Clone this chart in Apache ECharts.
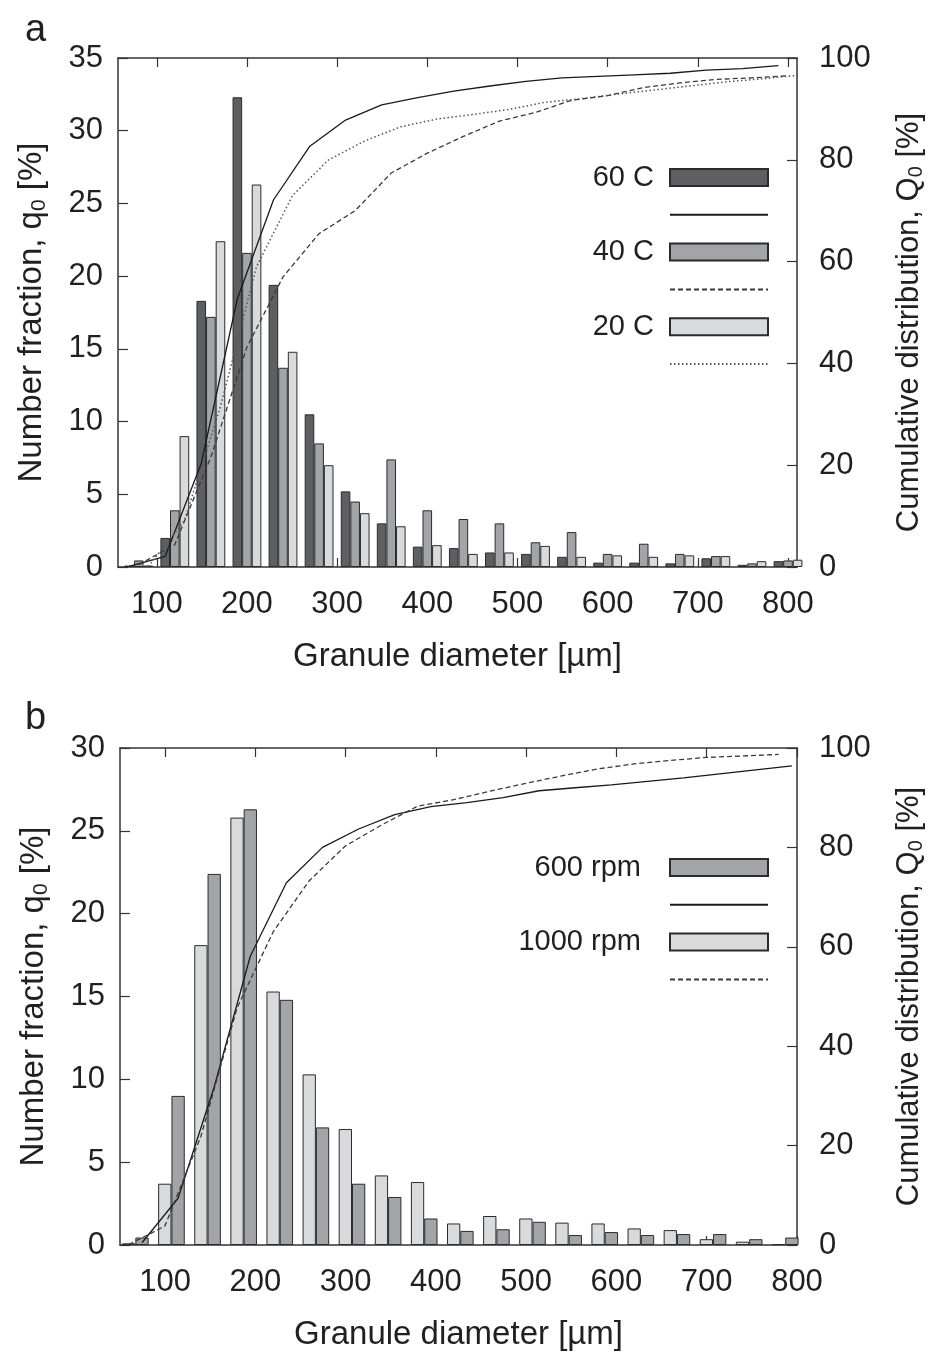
<!DOCTYPE html>
<html><head><meta charset="utf-8">
<script src="https://cdn.jsdelivr.net/npm/echarts@6/dist/echarts.min.js"></script>
<style>html,body{margin:0;padding:0;background:#fff}#c{width:934px;height:1352px}</style>
</head><body><div id="c"></div>
<script>
// ---------- data ----------
const binsA = [80,120,160,200,240,280,320,360,400,440,480,520,560,600,640,680,720,760,800];
const a60 = [0.1,2.0,18.3,32.3,19.4,10.5,5.2,3.0,1.4,1.3,1.0,0.9,0.7,0.3,0.3,0.25,0.6,0.15,0.4];
const a40 = [0.45,3.9,17.2,21.6,13.7,8.5,4.5,7.4,3.9,3.3,3.0,1.7,2.4,0.9,1.6,0.9,0.75,0.25,0.45];
const a20 = [0.1,9.0,22.4,26.3,14.8,7.0,3.7,2.8,1.5,0.9,1.0,1.45,0.7,0.8,0.7,0.8,0.75,0.4,0.5];
const cumA60 = [0.1,2.1,20.4,52.7,72.1,82.6,87.8,90.8,92.2,93.5,94.5,95.4,96.1,96.4,96.7,97.0,97.6,97.9,98.5];
const cumA40 = [0.45,4.4,21.6,43.2,57.0,65.5,70.0,77.4,81.3,84.6,87.6,89.3,91.7,92.6,94.2,95.1,95.8,96.1,96.5];
const cumA20 = [0.1,9.1,31.5,59.0,73.0,80.0,83.7,86.5,88.0,88.9,89.9,91.3,92.0,92.9,93.7,94.5,95.3,95.9,96.6];

const binsB = [67,107,147,187,227,267,307,347,387,427,467,507,547,587,627,667,707,747,787];
const b1000 = [0.1,3.7,18.1,25.8,15.3,10.3,7.0,4.2,3.8,1.3,1.75,1.6,1.35,1.3,1.0,0.9,0.35,0.2,0.05];
const b600  = [0.45,9.0,22.4,26.3,14.8,7.1,3.7,2.9,1.6,0.85,0.95,1.4,0.6,0.78,0.6,0.66,0.66,0.35,0.45];
const cumB600  = [0.45,9.4,31.8,58.1,72.9,80.0,83.7,86.6,88.2,89.0,90.0,91.4,92.0,92.6,93.3,94.0,94.8,95.6,96.4];
const cumB1000 = [0.1,3.8,21.9,47.7,63.0,73.3,80.3,84.5,88.3,89.6,91.3,92.9,94.4,95.8,96.8,97.5,98.1,98.4,98.7];

const xTickVals = [100,200,300,400,500,600,700,800];
const seriesNamesA = ['60 C','40 C','20 C'];
const seriesNamesB = ['600 rpm','1000 rpm'];

// ---------- layout / style ----------
const FONT = '"Liberation Sans", Arial, Helvetica, sans-serif';
const TXT = '#231f20';
const AX = '#333';
const gridA = {left:118, top:58, width:681, height:509};
const gridB = {left:120, top:748, width:680, height:510};
const rangeA = [57, 810], rangeB = [50, 800];
const barWA = 9.6, barWB = 13.3;
const offA = barWA * (rangeA[1]-rangeA[0]) / gridA.width;
const offB = barWB * (rangeB[1]-rangeB[0]) / gridB.width;
const C_DARK = '#5e5f63', C_MID = '#a3a4a8', C_LIGHT = '#d9dadc';

function xAxesFor(gi, range) {
  const base = {type:'value', gridIndex:gi, min:range[0], max:range[1], splitLine:{show:false},
    axisLine:{show:true, onZero:false, lineStyle:{color:AX, width:1.5}},
    axisTick:{show:true, inside:true, length:9, customValues:xTickVals, lineStyle:{color:AX, width:1.2}}};
  return [
    Object.assign({}, base, {position:'bottom',
      axisLabel:{customValues:xTickVals, fontSize:31, color:TXT, margin:22, fontFamily:FONT},
      name:'Granule diameter [µm]', nameLocation:'middle', nameGap:73,
      nameTextStyle:{fontSize:33, color:TXT, fontFamily:FONT}}),
    Object.assign({}, base, {position:'top', axisLabel:{show:false}})
  ];
}
function yAxesFor(gi, leftMax, rightPad) {
  return [
    {type:'value', gridIndex:gi, position:'left', min:0, max:leftMax, interval:5,
     axisLine:{show:true, lineStyle:{color:AX, width:1.5}},
     axisTick:{show:true, inside:true, length:10, lineStyle:{color:AX, width:1.2}},
     axisLabel:{fontSize:31, color:TXT, margin:15, fontFamily:FONT}, splitLine:{show:false},
     name:'Number fraction, q{s|0} [%]', nameLocation:'middle', nameGap:68,
     nameTextStyle:{fontSize:33, color:TXT, fontFamily:FONT,
       rich:{s:{fontSize:21, color:TXT, fontFamily:FONT, verticalAlign:'bottom', padding:[15,0,0,0]}}}},
    {type:'value', gridIndex:gi, position:'right', min:0, max:100, interval:20,
     axisLine:{show:true, lineStyle:{color:AX, width:1.5}},
     axisTick:{show:true, inside:true, length:10, lineStyle:{color:AX, width:1.2}},
     axisLabel:{fontSize:31, color:TXT, margin:22, fontFamily:FONT}, splitLine:{show:false},
     name:'Cumulative distribution, Q{s|0} [%]', nameLocation:'middle', nameGap:95,
     nameTextStyle:{fontSize:31, color:TXT, fontFamily:FONT, padding:[0,rightPad,0,0],
       rich:{s:{fontSize:20, color:TXT, fontFamily:FONT, verticalAlign:'bottom', padding:[14,0,0,0]}}}}
  ];
}
function barSeries(name, xi, yi, bins, vals, color, w) {
  return {name, type:'bar', xAxisIndex:xi, yAxisIndex:yi, barWidth:w, barGap:'0%',
    data: bins.map((b,i)=>[b, vals[i]]),
    itemStyle:{color, borderColor:'#2b2b2b', borderWidth:1}, emphasis:{disabled:true}, z:2};
}
function lineSeries(name, xi, yi, bins, vals, off, type, color, width) {
  return {name, type:'line', xAxisIndex:xi, yAxisIndex:yi, symbol:'none', clip:true,
    data: bins.map((b,i)=>[b+off, vals[i]]),
    itemStyle:{color, opacity:0},
    lineStyle:{color, width, type}, emphasis:{disabled:true}, z:5};
}

const series = [
  barSeries('60 C', 0, 0, binsA, a60, C_DARK, barWA),
  barSeries('40 C', 0, 0, binsA, a40, C_MID, barWA),
  barSeries('20 C', 0, 0, binsA, a20, C_LIGHT, barWA),
  lineSeries('60 C cum', 0, 1, binsA, cumA60, -offA, 'solid', '#1a1a1a', 1.3),
  lineSeries('40 C cum', 0, 1, binsA, cumA40, 0, [5,3], '#3a3a3a', 1.3),
  lineSeries('20 C cum', 0, 1, binsA, cumA20, offA, [1.5,2.5], '#555', 1.5),
  barSeries('1000 rpm', 2, 2, binsB, b1000, C_LIGHT, barWB),
  barSeries('600 rpm', 2, 2, binsB, b600, C_MID, barWB),
  lineSeries('600 rpm cum', 2, 3, binsB, cumB600, offB/2, 'solid', '#1a1a1a', 1.3),
  lineSeries('1000 rpm cum', 2, 3, binsB, cumB1000, -offB/2, [5,3], '#3a3a3a', 1.3)
];

function legendFor(names, top, gapPad) {
  const data = [];
  names.forEach(n => {
    data.push({name:n, icon:'rect'});
    data.push({name:n+' cum', itemStyle:{opacity:0}});
  });
  return {data, orient:'vertical', right:160, top, itemWidth:98, itemHeight:17, itemGap:16,
    align:'right', selectedMode:false, formatter: n => n.endsWith(' cum') ? '' : n,
    textStyle:{fontSize:29, lineHeight:17, color:TXT, fontFamily:FONT, padding:[0,gapPad,0,0]}};
}

const chart = echarts.init(document.getElementById('c'), null, {renderer:'canvas'});
chart.setOption({
  animation:false,
  backgroundColor:'#fff',
  title:[
    {text:'a', left:20, top:7, textStyle:{fontSize:38, fontWeight:'normal', color:TXT, fontFamily:FONT}},
    {text:'b', left:20, top:695, textStyle:{fontSize:38, fontWeight:'normal', color:TXT, fontFamily:FONT}}
  ],
  grid:[Object.assign({containLabel:false}, gridA), Object.assign({containLabel:false}, gridB)],
  xAxis:[...xAxesFor(0, rangeA), ...xAxesFor(1, rangeB)],
  yAxis:[...yAxesFor(0, 35, 20), ...yAxesFor(1, 30, 0)],
  legend:[legendFor(seriesNamesA, 158, 11), legendFor(seriesNamesB, 848, 24)],
  series
});
</script></body></html>
